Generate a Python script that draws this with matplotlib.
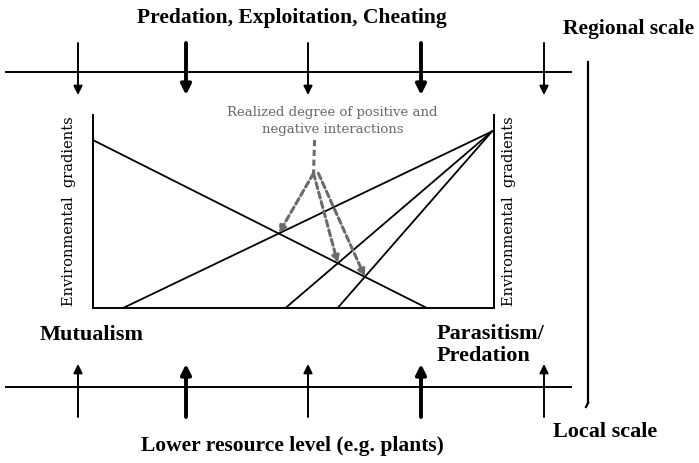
#Conceptual diagram: positive/negative interactions along environmental gradients
#regional scale (top) vs local scale (bottom)

import numpy as np
import matplotlib.pyplot as plt

plt.rcParams['font.family'] = 'Liberation Serif'

#Gradient lines inside the box, relative units (x0, y0, x1, y1)
descending = (0.0, 0.87, 0.8325, 0.0)
apex = (0.995, 0.915)
ascending_ends = [0.075, 0.48, 0.61]

#Arrows along the two scales: position along the bar and weight
scale_pos = [78, 186, 308, 421, 544]
scale_weight = [1, 2, 1, 2, 1]

top_label = "Predation, Exploitation, Cheating"
bottom_label = "Lower resource level (e.g. plants)"
left_label = "Mutualism"
right_label = "Parasitism/\nPredation"
axis_label = "Environmental  gradients"
note_label = "Realized degree of positive and\nnegative interactions"


def Intersect(a, b):
	#intersection of two segments given as (x0,y0,x1,y1)
	x0, y0, x1, y1 = a
	u0, v0, u1, v1 = b
	m1 = (y1 - y0)/(x1 - x0)
	m2 = (v1 - v0)/(u1 - u0)
	x = (v0 - y0 + m1*x0 - m2*u0)/(m1 - m2)
	return x, y0 + m1*(x - x0)


fig = plt.figure(figsize=(6.99, 4.63), dpi=100)

#overlay in pixel units for the scale bars
ax = fig.add_axes([0, 0, 1, 1])
ax.set_xlim(0, 699)
ax.set_ylim(463, 0)
ax.axis('off')

ax.plot([6, 571], [72, 72], color='k', lw=1.4)
ax.plot([6, 571], [387, 387], color='k', lw=1.4)
ax.plot([588, 588], [62, 403], color='k', lw=1.6)
ax.plot([588, 586], [403, 407], color='k', lw=1.6)

for x, w in zip(scale_pos, scale_weight):
	ax.annotate('', xy=(x, 95), xytext=(x, 43),
		arrowprops=dict(arrowstyle='-|>', lw=1.4*w, color='k', mutation_scale=11+2*w, shrinkA=0, shrinkB=0))
	ax.annotate('', xy=(x, 364), xytext=(x, 417),
		arrowprops=dict(arrowstyle='-|>', lw=1.4*w, color='k', mutation_scale=11+2*w, shrinkA=0, shrinkB=0))

ax.text(292, 18, top_label, ha='center', va='center', fontsize=15.5, fontweight='bold')
ax.text(292, 446, bottom_label, ha='center', va='center', fontsize=15.5, fontweight='bold')
ax.text(563, 29, "Regional scale", ha='left', va='center', fontsize=15.5, fontweight='bold')
ax.text(553, 432, "Local scale", ha='left', va='center', fontsize=16, fontweight='bold')
ax.text(40, 335, left_label, ha='left', va='center', fontsize=16, fontweight='bold')
ax.text(437, 345, right_label, ha='left', va='center', fontsize=16, fontweight='bold', linespacing=1.1)

#inner box
bx = fig.add_axes([93/699, 1 - 308/463, 401/699, 193/463])
bx.set_xlim(0, 1)
bx.set_ylim(0, 1)
bx.set_xticks([])
bx.set_yticks([])
bx.spines['top'].set_visible(False)
for s in ['left', 'bottom', 'right']:
	bx.spines[s].set_linewidth(1.4)
bx.patch.set_alpha(0)

bx.plot([descending[0], descending[2]], [descending[1], descending[3]], color='k', lw=1.3)
crossings = []
for xe in ascending_ends:
	seg = (xe, 0.0, apex[0], apex[1])
	bx.plot([seg[0], seg[2]], [seg[1], seg[3]], color='k', lw=1.3)
	crossings.append(Intersect(descending, seg))

bx.text(-0.06, 0.5, axis_label, rotation=90, ha='center', va='center', fontsize=10.5, family='DejaVu Serif')
bx.text(1.0375, 0.5, axis_label, rotation=90, ha='center', va='center', fontsize=10.5, family='DejaVu Serif')

grey = '#6a6a6a'
bx.text(0.597, 0.97, note_label, ha='center', va='center', fontsize=9.5, color=grey, linespacing=1.35,
	family='DejaVu Serif', clip_on=False)

vertex = (0.55, 0.698)
bx.plot([0.5525, vertex[0]], [0.87, vertex[1]], color=grey, lw=2.2, ls=(0, (2, 1.2)), clip_on=False)
starts = [vertex, vertex, (vertex[0] + 0.012, vertex[1])]
for st, cr in zip(starts, crossings):
	bx.annotate('', xy=cr, xytext=st,
		arrowprops=dict(arrowstyle='-|>', lw=2.2, color=grey, ls=(0, (2, 1.2)), mutation_scale=10, shrinkA=0, shrinkB=0))

fig.savefig('out.png', dpi=100)
